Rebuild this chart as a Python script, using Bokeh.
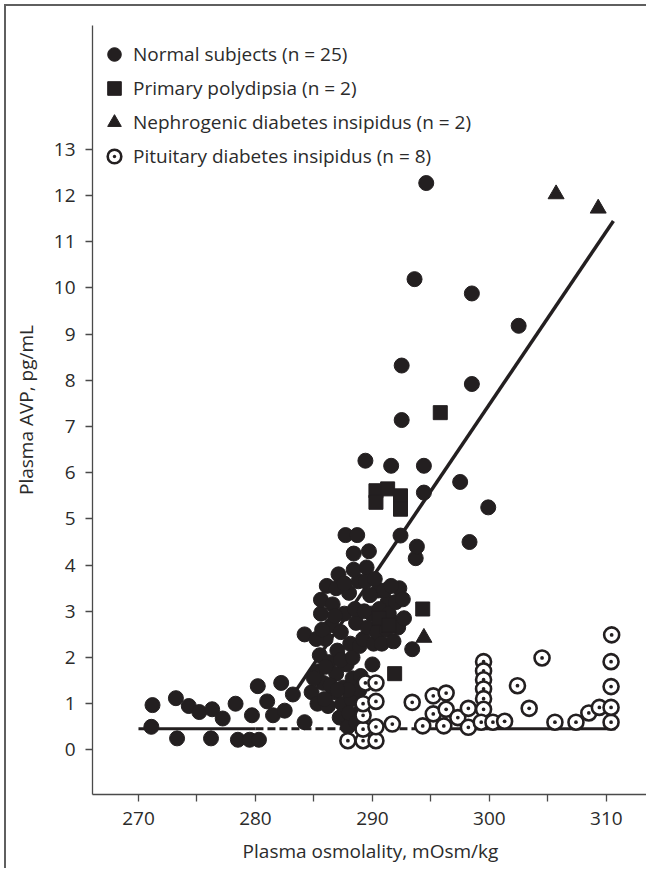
from bokeh.plotting import figure
from bokeh.models import Range1d, FixedTicker, Legend, LegendItem
from bokeh.embed import file_html
from bokeh.resources import INLINE

# ---------------- data ----------------
normal_x = [271.2, 271.1, 273.2, 273.3, 274.3, 275.2, 276.3, 276.2, 277.2, 278.3,
            278.5, 279.5, 280.3, 279.7, 280.2, 281.0, 281.5, 282.2, 282.5, 283.2,
            284.2, 284.2,
            284.8, 285.3, 285.3, 285.5, 285.6, 285.6, 285.8, 286.0, 286.1, 286.2,
            286.3, 286.5, 286.6, 286.7, 286.9, 287.0, 287.1, 287.2, 287.3, 287.4,
            287.5, 287.6, 287.7, 287.8, 287.9, 288.0, 288.1, 288.2, 288.3, 288.4,
            288.6, 288.7, 288.8, 288.9,
            285.0, 285.2, 285.9, 286.4, 286.8, 286.9, 287.3, 287.9, 288.0, 288.3,
            288.5, 288.9, 289.0, 289.1, 289.4, 289.9, 290.5, 290.9, 291.3, 291.9,
            292.3, 288.6, 287.0, 286.0, 285.7, 287.6, 288.4,
            289.2, 289.3, 289.4, 289.5, 289.6, 289.7, 289.8, 290.0, 290.1, 290.2,
            290.4, 290.6, 290.8, 291.0, 291.2, 291.4, 291.6, 291.6, 291.8, 292.0,
            292.2, 292.4, 292.5, 292.5, 292.6, 292.7, 293.4, 293.6, 293.7, 293.8,
            294.4, 294.4, 294.6, 297.5, 298.3, 298.5, 298.5, 299.9, 302.5]
normal_y = [0.97, 0.50, 1.12, 0.25, 0.95, 0.82, 0.88, 0.25, 0.68, 1.00,
            0.22, 0.22, 0.22, 0.75, 1.38, 1.05, 0.75, 1.45, 0.85, 1.20,
            2.50, 0.60,
            1.25, 1.00, 1.70, 2.05, 2.95, 3.25, 1.45, 2.40, 3.55, 0.95,
            1.90, 2.70, 3.15, 1.25, 1.65, 2.15, 3.80, 0.70, 2.55, 1.00,
            1.35, 2.95, 4.65, 1.85, 0.50, 3.40, 2.30, 1.10, 1.55, 4.25,
            2.75, 4.65, 3.65, 1.30,
            1.55, 2.40, 1.10, 1.40, 2.90, 3.50, 1.95, 1.30, 0.80, 2.00,
            3.05, 2.25, 1.60, 0.90, 3.65, 2.95, 3.45, 2.65, 3.20, 2.75,
            3.50, 0.60, 1.30, 1.80, 2.60, 3.60, 3.90,
            2.40, 3.00, 6.26, 3.95, 2.65, 4.30, 3.35, 1.85, 2.30, 3.70,
            2.55, 3.05, 2.30, 3.45, 2.60, 2.95, 3.55, 6.15, 2.35, 3.20,
            2.65, 4.64, 7.14, 8.32, 3.26, 2.85, 2.18, 10.19, 4.15, 4.40,
            5.57, 6.15, 12.27, 5.80, 4.50, 7.92, 9.88, 5.25, 9.18]

polydipsia_x = [290.3, 291.3, 292.4, 290.3, 292.4, 295.8, 294.3, 291.9, 290.6, 291.4]
polydipsia_y = [5.61, 5.65, 5.50, 5.36, 5.21, 7.30, 3.05, 1.65, 2.85, 2.70]

nephrogenic_x = [305.7, 309.3, 294.4]
nephrogenic_y = [12.03, 11.72, 2.43]

pituitary_x = [287.9, 289.2, 290.3, 289.2, 290.3, 289.2, 289.2, 289.4, 290.3, 290.3,
               291.7, 293.4, 294.3, 295.2, 295.2, 296.3, 296.3, 296.1, 297.3, 298.2,
               298.2, 299.5, 299.5, 299.5, 299.5, 299.5, 299.5, 299.3, 300.3, 301.3,
               302.4, 303.4, 304.5, 305.6, 307.4, 308.5, 309.4, 310.4, 310.4, 310.4,
               310.4, 310.45]
pituitary_y = [0.20, 0.20, 0.20, 0.45, 0.50, 0.75, 1.00, 1.45, 1.45, 1.05,
               0.56, 1.03, 0.52, 1.17, 0.78, 1.23, 0.88, 0.52, 0.70, 0.90,
               0.49, 1.91, 1.71, 1.52, 1.32, 1.11, 0.88, 0.60, 0.60, 0.62,
               1.39, 0.90, 1.99, 0.60, 0.60, 0.80, 0.92, 0.60, 0.92, 1.37,
               1.91, 2.49]

regression_x = [283.5, 310.6]
regression_y = [1.30, 11.45]

baseline_solid1_x = [270.0, 280.0]
baseline_dashed_x = [280.0, 294.0]
baseline_solid2_x = [294.0, 310.8]
baseline_level = 0.46

x_ticks = [270, 280, 290, 300, 310]
x_minor = [275, 285, 295, 305]
y_ticks = list(range(0, 14))

labels = ["Normal subjects (n = 25)", "Primary polydipsia (n = 2)",
          "Nephrogenic diabetes insipidus (n = 2)", "Pituitary diabetes insipidus (n = 8)"]

# ---------------- figure ----------------
DARK = "#231f20"
TXT = "#2b2b2b"
AX = "#4a4a4a"
FONT = "Open Sans"

p = figure(width=642, height=864, output_backend="svg", toolbar_location=None,
           x_range=Range1d(266.07, 313.6), y_range=Range1d(-0.965, 15.68),
           min_border_left=86, min_border_right=0, min_border_top=19, min_border_bottom=76)
p.styles = {"border-left": "2px solid #5f5f5f", "border-top": "2px solid #5f5f5f",
            "transform": "translate(4px, 4px)"}
p.outline_line_color = None
p.xgrid.visible = False
p.ygrid.visible = False
p.background_fill_color = "white"
p.border_fill_color = "white"

xa = p.xaxis[0]
xa.ticker = FixedTicker(ticks=x_ticks, minor_ticks=x_minor)
ya = p.yaxis[0]
ya.ticker = FixedTicker(ticks=y_ticks)
for ax in (xa, ya):
    ax.axis_line_color = AX
    ax.axis_line_width = 1.3
    ax.major_tick_line_color = AX
    ax.minor_tick_line_color = AX
    ax.major_tick_line_width = 1.3
    ax.minor_tick_line_width = 1.3
    ax.major_tick_in = 0
    ax.major_tick_out = 7
    ax.minor_tick_in = 0
    ax.major_label_text_font = FONT
    ax.major_label_text_font_size = "19px"
    ax.major_label_text_color = TXT
    ax.axis_label_text_font = FONT
    ax.axis_label_text_font_size = "19px"
    ax.axis_label_text_font_style = "normal"
    ax.axis_label_text_color = TXT
xa.minor_tick_out = 7
ya.minor_tick_out = 0
xa.major_label_standoff = 10
ya.major_label_standoff = 10
xa.axis_label = "Plasma osmolality, mOsm/kg"
ya.axis_label = "Plasma AVP, pg/mL"
xa.axis_label_standoff = 10
ya.axis_label_standoff = 12

# lines
p.line(regression_x, regression_y, line_width=3.5, line_color=DARK)
p.line(baseline_solid1_x, [baseline_level] * 2, line_width=3, line_color=DARK)
p.line(baseline_dashed_x, [baseline_level] * 2, line_width=3, line_color=DARK, line_dash="8 4")
p.line(baseline_solid2_x, [baseline_level] * 2, line_width=3, line_color=DARK)

# points
r_norm = p.scatter(normal_x, normal_y, marker="circle", size=15,
                   fill_color=DARK, line_color=DARK, line_width=1)
r_poly = p.scatter(polydipsia_x, polydipsia_y, marker="square", size=14,
                   fill_color=DARK, line_color=DARK, line_width=1)
r_neph = p.scatter(nephrogenic_x, nephrogenic_y, marker="triangle", size=16,
                   fill_color=DARK, line_color=DARK, line_width=1)
r_pit = p.scatter(pituitary_x, pituitary_y, marker="circle_dot", size=15,
                  fill_color="white", line_color=DARK, line_width=2.6)

legend = Legend(items=[LegendItem(label=labels[0], renderers=[r_norm]),
                       LegendItem(label=labels[1], renderers=[r_poly]),
                       LegendItem(label=labels[2], renderers=[r_neph]),
                       LegendItem(label=labels[3], renderers=[r_pit])],
                location=(3, 621), orientation="vertical",
                glyph_width=38, glyph_height=34, spacing=0, padding=0, margin=0,
                label_standoff=0, label_height=20,
                label_text_font=FONT, label_text_font_size="19px", label_text_color=TXT,
                background_fill_alpha=0, border_line_alpha=0)
p.add_layout(legend)

open("out.html", "w").write(file_html(p, INLINE))
